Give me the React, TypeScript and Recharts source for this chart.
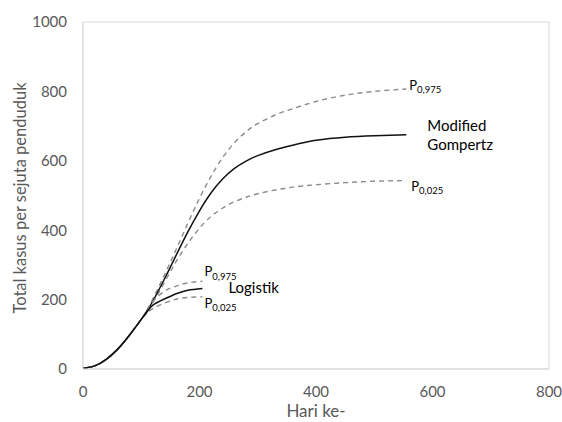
import * as React from 'react';
import {
  LineChart, Line, XAxis, YAxis, ReferenceArea, Label
} from 'recharts';

// hari (x) untuk kurva Modified Gompertz
const gompertzDays = [0, 20, 40, 60, 80, 100, 110, 120, 140, 160, 180, 200, 220, 240, 260, 280, 300, 330, 360, 400, 450, 500, 555];
const gompertzMid = [2, 9, 28, 58, 98, 143, 168, 196, 260, 328, 395, 456, 508, 548, 578, 599, 615, 632, 645, 659, 668, 672, 675];
const gompertzHi = [2, 9, 28, 58, 98, 143, 170, 202, 272, 345, 420, 492, 556, 610, 652, 684, 707, 732, 750, 771, 789, 800, 807];
const gompertzLo = [2, 9, 28, 58, 98, 143, 166, 192, 250, 310, 362, 406, 440, 464, 482, 495, 505, 516, 524, 531, 537, 541, 543];

// hari (x) untuk kurva Logistik
const logistikDays = [0, 20, 40, 60, 80, 100, 110, 120, 140, 160, 180, 205];
const logistikMid = [2, 9, 28, 58, 98, 143, 165, 184, 202, 217, 227, 232];
const logistikHi = [2, 9, 28, 58, 98, 143, 170, 195, 224, 239, 248, 253];
const logistikLo = [2, 9, 28, 58, 98, 143, 162, 174, 190, 201, 206, 208];

const xTicks = [0, 200, 400, 600, 800];
const yTicks = [0, 200, 400, 600, 800, 1000];

const FONT = 'Lato, "Open Sans", sans-serif';
const GREY = '#595959';

const toRows = (days: number[], vals: number[]) =>
  days.map((d, i) => ({ day: d, value: vals[i] }));

// label P_sub di ujung garis
const pLabel = (sub: string, last: number, dx: number, dy: number) => (props: any) => {
  if (props.index !== last) return <g key={props.index} />;
  return (
    <text key={props.index} x={props.x + dx} y={props.y + dy} fontFamily={FONT} fontSize={13} fill="#000">
      P<tspan dy={3.5} fontSize={9.5}>{sub}</tspan>
    </text>
  );
};

const nameLabel = (lines: string[], last: number, dx: number, dy: number) => (props: any) => {
  if (props.index !== last) return <g key={props.index} />;
  return (
    <text key={props.index} x={props.x + dx} y={props.y + dy} fontFamily={FONT} fontSize={15} fill="#000">
      {lines.map((t, i) => (
        <tspan key={t} x={props.x + dx} dy={i === 0 ? 0 : 19}>{t}</tspan>
      ))}
    </text>
  );
};

// judul sumbu Y
const yTitle = () => {
  const cx = 20;
  const cy = 198;
  return (
    <text x={cx} y={cy} transform={`rotate(-90, ${cx}, ${cy})`} textAnchor="middle"
      dominantBaseline="central" fill={GREY} fontSize={16.5} fontFamily={FONT}>
      Total kasus per sejuta penduduk
    </text>
  );
};

const dashed = { stroke: '#8c8c8c', strokeWidth: 1.4, strokeDasharray: '5 4' };
const solid = { stroke: '#111', strokeWidth: 1.5 };

const App: React.FunctionComponent = () => {
  const gLast = gompertzDays.length - 1;
  const lLast = logistikDays.length - 1;
  return (
    <div style={{ position: 'absolute', left: 0, top: 0 }}>
      <LineChart width={562} height={422} margin={{ top: 22, right: 13, bottom: 0, left: 0 }}>
        <XAxis
          dataKey="day" type="number" domain={[0, 800]} ticks={xTicks}
          height={53} tickLine={false} tickMargin={11}
          axisLine={{ stroke: '#d9d9d9' }}
          tick={{ fill: GREY, fontSize: 15, fontFamily: FONT }}
          allowDuplicatedCategory={false}
        >
          <Label value="Hari ke-" position="center" dy={15}
            style={{ fill: GREY, fontSize: 17, fontFamily: FONT }} />
        </XAxis>
        <YAxis
          type="number" domain={[0, 1000]} ticks={yTicks} width={83}
          tickLine={false} tickMargin={10}
          axisLine={{ stroke: '#d9d9d9' }}
          tick={{ fill: GREY, fontSize: 15, fontFamily: FONT }}
        >
          <Label content={yTitle} />
        </YAxis>
        <ReferenceArea x1={0} x2={800} y1={0} y2={1000} fill="none" stroke="#d9d9d9" />

        <Line data={toRows(gompertzDays, gompertzHi)} dataKey="value" type="natural" dot={false}
          {...dashed} isAnimationActive={false} label={pLabel('0,975', gLast, 3, 1)} />
        <Line data={toRows(gompertzDays, gompertzLo)} dataKey="value" type="natural" dot={false}
          {...dashed} isAnimationActive={false} label={pLabel('0,025', gLast, 5, 10)} />
        <Line data={toRows(gompertzDays, gompertzMid)} dataKey="value" type="natural" dot={false}
          {...solid} isAnimationActive={false} label={nameLabel(['Modified', 'Gompertz'], gLast, 21, -4)} />

        <Line data={toRows(logistikDays, logistikHi)} dataKey="value" type="natural" dot={false}
          {...dashed} isAnimationActive={false} label={pLabel('0,975', lLast, 2, -5)} />
        <Line data={toRows(logistikDays, logistikLo)} dataKey="value" type="natural" dot={false}
          {...dashed} isAnimationActive={false} label={pLabel('0,025', lLast, 2, 11)} />
        <Line data={toRows(logistikDays, logistikMid)} dataKey="value" type="natural" dot={false}
          {...solid} isAnimationActive={false} label={nameLabel(['Logistik'], lLast, 26, 5)} />
      </LineChart>
    </div>
  );
};

export default App;
